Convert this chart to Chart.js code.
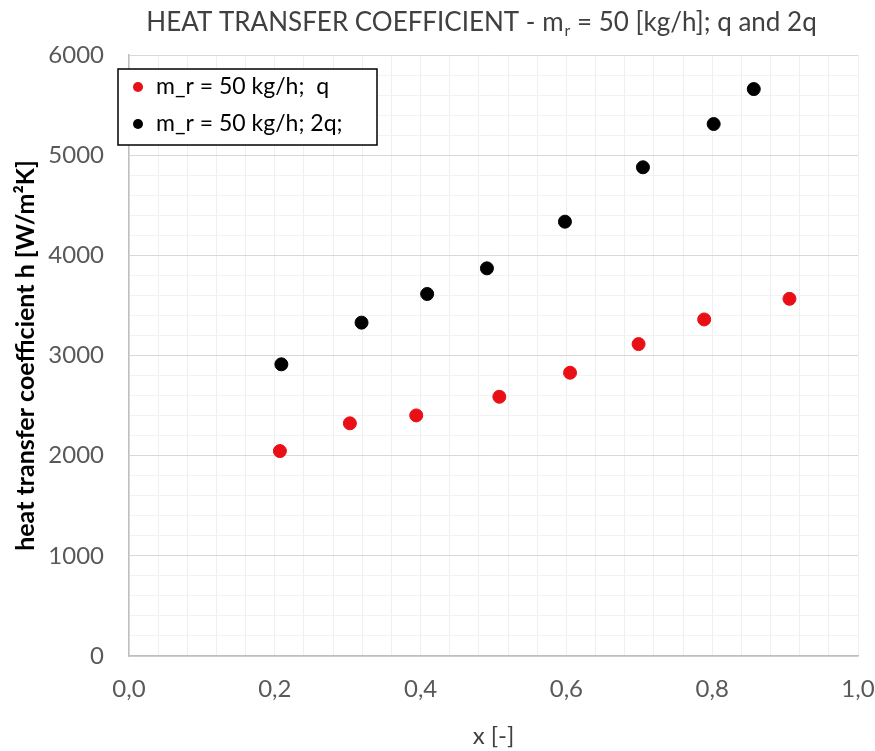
<!DOCTYPE html>
<html>
<head>
<meta charset="utf-8">
<title>Heat transfer coefficient</title>
<script src="https://cdn.jsdelivr.net/npm/chart.js@4.4.1/dist/chart.umd.min.js"></script>
<style>
  body { margin: 0; background: #fff; }
  #holder { width: 875px; height: 751px; }
</style>
</head>
<body>
<div id="holder"><canvas id="htcCanvas"></canvas></div>
<script>
var xQ  = [0.207, 0.303, 0.394, 0.508, 0.605, 0.699, 0.789, 0.906];
var hQ  = [2046, 2323, 2402, 2588, 2828, 3114, 3360, 3566];
var x2Q = [0.209, 0.319, 0.409, 0.491, 0.598, 0.705, 0.802, 0.857];
var h2Q = [2912, 3328, 3614, 3870, 4336, 4879, 5311, 5660];

var seriesLabels = ['m_r = 50 kg/h;  q', 'm_r = 50 kg/h; 2q;'];
var xTickValues = [0, 0.2, 0.4, 0.6, 0.8, 1.0];
var xTickLabels = ['0,0', '0,2', '0,4', '0,6', '0,8', '1,0'];
var yTickValues = [0, 1000, 2000, 3000, 4000, 5000, 6000];
var yTickLabels = ['0', '1000', '2000', '3000', '4000', '5000', '6000'];
var titleParts = ['HEAT TRANSFER COEFFICIENT - m', 'r', ' = 50 [kg/h]; q and 2q'];

function toPoints(xs, ys) {
  return xs.map(function(x, i) { return {x: x, y: ys[i]}; });
}

function labelFor(value, values, labels, tol) {
  for (var i = 0; i < values.length; i++) {
    if (Math.abs(values[i] - value) < tol) return labels[i];
  }
  return '';
}

var RED = 'rgb(232,16,22)';
var FONT = 'Lato';

// title with the subscript r
var titlePlugin = {
  id: 'subTitle',
  afterDraw: function(chart) {
    var c = chart.ctx;
    c.save();
    c.fillStyle = '#404040';
    c.textBaseline = 'alphabetic';
    var big = '26px ' + FONT, small = '16px ' + FONT;
    c.font = big;
    var w1 = c.measureText(titleParts[0]).width;
    var w3 = c.measureText(titleParts[2]).width;
    c.font = small;
    var w2 = c.measureText(titleParts[1]).width;
    var x = 481 - (w1 + w2 + w3) / 2, y = 31;
    c.font = big;   c.fillText(titleParts[0], x, y);
    c.font = small; c.fillText(titleParts[1], x + w1 + 1, y + 5);
    c.font = big;   c.fillText(titleParts[2], x + w1 + w2 + 1, y);
    c.restore();
  }
};

// legend box inside the plot, top left
var boxLegend = {
  id: 'boxLegend',
  afterDraw: function(chart) {
    var c = chart.ctx;
    var left = 118, top = 69, w = 259, h = 76;
    c.save();
    c.fillStyle = '#fff';
    c.fillRect(left, top, w, h);
    c.strokeStyle = '#000';
    c.lineWidth = 1.5;
    c.strokeRect(left, top, w, h);
    c.font = '23px ' + FONT;
    c.textBaseline = 'middle';
    chart.data.datasets.forEach(function(ds, i) {
      var cy = top + 18 + i * 37;
      c.fillStyle = ds.backgroundColor;
      c.beginPath();
      c.arc(left + 20, cy, 5, 0, Math.PI * 2);
      c.fill();
      c.fillStyle = '#000';
      c.fillText(ds.label, left + 38, cy);
    });
    c.restore();
  }
};

var config = {
  type: 'scatter',
  data: {
    datasets: [{
      label: seriesLabels[0],
      data: toPoints(xQ, hQ),
      backgroundColor: RED,
      borderColor: RED,
      pointRadius: 6.5,
      pointHoverRadius: 6.5
    }, {
      label: seriesLabels[1],
      data: toPoints(x2Q, h2Q),
      backgroundColor: '#000',
      borderColor: '#000',
      pointRadius: 6.5,
      pointHoverRadius: 6.5
    }]
  },
  options: {
    responsive: true,
    maintainAspectRatio: false,
    animation: false,
    layout: { padding: { top: 55, right: 17, left: 0, bottom: 0 } },
    plugins: {
      legend: { display: false },
      title: { display: false },
      tooltip: { enabled: false }
    },
    scales: {
      x: {
        type: 'linear',
        min: 0, max: 1,
        afterFit: function(scale) {
          scale.height = 95;
          scale.paddingLeft = 0;
          scale.paddingRight = 0;
        },
        ticks: {
          stepSize: 0.04,
          maxTicksLimit: 1000,
          autoSkip: false,
          maxRotation: 0,
          padding: 19,
          color: '#595959',
          font: { family: FONT, size: 24 },
          callback: function(v) { return labelFor(v, xTickValues, xTickLabels, 1e-6); }
        },
        grid: {
          drawTicks: false,
          color: '#efefef'
        },
        border: { color: '#bfbfbf', width: 1.5 },
        title: {
          display: true,
          text: 'x [-]',
          color: '#404040',
          font: { family: FONT, size: 24 },
          padding: { top: 6, bottom: 0 }
        }
      },
      y: {
        type: 'linear',
        min: 0, max: 6000,
        afterFit: function(scale) {
          scale.width = 129;
          scale.paddingTop = 0;
          scale.paddingBottom = 0;
        },
        ticks: {
          stepSize: 200,
          maxTicksLimit: 1000,
          autoSkip: false,
          padding: 25,
          color: '#595959',
          font: { family: FONT, size: 24 },
          callback: function(v) { return labelFor(v, yTickValues, yTickLabels, 0.5); }
        },
        grid: {
          drawTicks: false,
          color: function(ctx) {
            return ctx.tick && Math.round(ctx.tick.value) % 1000 === 0 ? '#d9d9d9' : '#f2f2f2';
          }
        },
        border: { color: '#bfbfbf', width: 1.5 },
        title: {
          display: true,
          text: 'heat transfer coefficient h [W/m²K]',
          color: '#000',
          font: { family: FONT, size: 25, weight: 'bold' },
          padding: { top: 11, bottom: 0 }
        }
      }
    }
  },
  plugins: [titlePlugin, boxLegend]
};

window.onload = function() {
  var ctx = document.getElementById('htcCanvas').getContext('2d');
  window.htcChart = new Chart(ctx, config);
};
</script>
</body>
</html>
